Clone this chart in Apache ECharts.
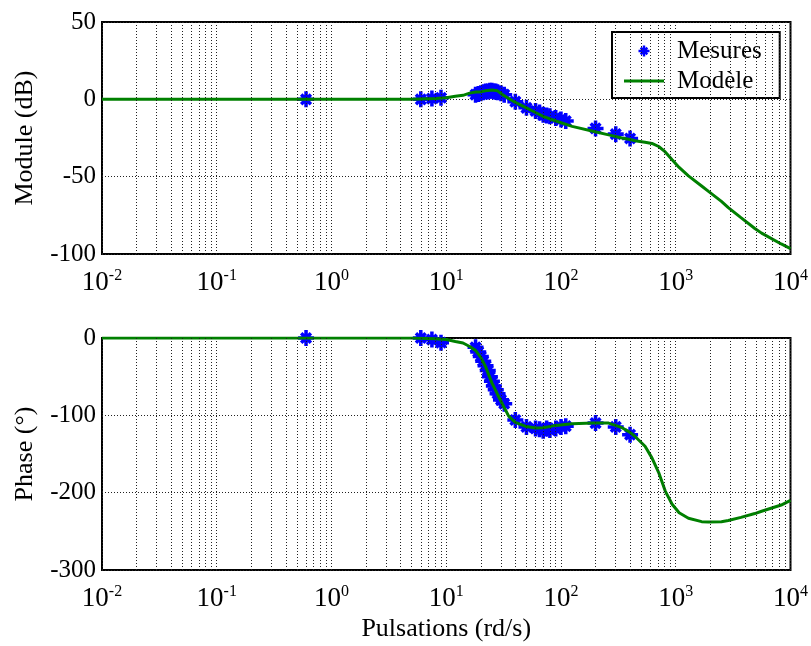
<!DOCTYPE html>
<html><head><meta charset="utf-8">
<script src="https://cdn.jsdelivr.net/npm/echarts@6/dist/echarts.min.js"></script>
<style>html,body{margin:0;padding:0;background:#fff}#c{width:811px;height:646px}</style>
</head><body><div id="c"></div>
<script>
// Measured points (Mesures)
const measW  = [0.6, 6, 7.5, 9, 18, 19, 20, 21, 22, 23, 24, 25, 26, 27, 28, 30, 32, 40, 50, 60, 65, 70, 75, 80, 90, 100, 110, 200, 300, 400];
const measDb = [0, 0, 0.5, 1, 3, 3.5, 4, 4.5, 5, 5, 5.5, 5.5, 5, 5, 4.5, 4, 3, -1.5, -5.5, -7.5, -8.5, -10, -10.5, -11, -12, -13, -14, -18.8, -22.5, -25.3];
const measPh = [0, 0, -2, -6, -12, -18, -24, -30, -36, -42, -50, -56, -62, -67, -72, -80, -85, -106, -115, -117, -118, -120, -117, -119, -117, -115, -114, -110, -115, -125];
// Model curve (Modèle)
const modelW  = [0.01, 1, 5, 8, 10, 12, 14, 16, 18, 20, 22, 25, 28, 31, 35, 40, 50, 60, 70, 90, 125, 190, 260, 340, 400, 440, 540, 620, 710, 810, 930, 1070, 1290, 1680, 1930, 2500, 2870, 3700, 4890, 5600, 8300, 10000];
const modelDb = [0, 0, 0, 0.5, 1, 2, 2.6, 4, 4.7, 4.8, 5.5, 6, 5.5, 3, 0.5, -2, -5.5, -8.5, -11, -14, -17.5, -20.6, -23, -25, -26, -26.8, -27.8, -28.5, -30.5, -34, -39, -44, -49.5, -56, -59.5, -66, -70, -76.5, -83.5, -86.5, -93.5, -96.5];
const modelPh = [0, 0, 0, -1, -2, -4.5, -6.5, -11, -16, -25, -37, -58, -73, -86, -101, -109, -114.5, -116.5, -116, -113, -111, -110, -110, -116, -122, -127, -140, -155, -174, -198, -215, -226, -233, -237.5, -238, -237.5, -236, -232, -227, -224, -216, -210];
// Axis structure
const decadeExps = [-2, -1, 0, 1, 2, 3];
const minorMult = [2, 3, 4, 5, 6, 7, 8, 9];

const FONT = 'Liberation Serif';
const star = 'path://M0,7.8H20V12.2H0Z M7.8,0H12.2V20H7.8Z M2.4,5.5L5.5,2.4L17.6,14.5L14.5,17.6Z M14.5,2.4L17.6,5.5L5.5,17.6L2.4,14.5Z';
const lineIcon = 'path://M0,0H40V3H0Z';

const pairs = (xs, ys) => xs.map((x, i) => [x, ys[i]]);
const minorLines = [];
decadeExps.forEach(e => minorMult.forEach(k => minorLines.push({ xAxis: k * Math.pow(10, e) })));

const gridStyle = { color: '#222', width: 1, type: [1, 2] };

function xAxisCfg(idx, name) {
  return {
    type: 'log', logBase: 10, gridIndex: idx, min: 0.01, max: 10000, splitNumber: 6,
    axisLine: { show: false }, axisTick: { show: false },
    splitLine: { show: true, lineStyle: gridStyle },
    axisLabel: {
      margin: 14,
      formatter: v => '{b|10}{s|' + Math.round(Math.log10(v)) + '}',
      rich: {
        b: { fontFamily: FONT, fontSize: 27, color: '#000', lineHeight: 28, verticalAlign: 'bottom' },
        s: { fontFamily: FONT, fontSize: 16, color: '#000', lineHeight: 16, verticalAlign: 'top' }
      }
    },
    name: name, nameLocation: 'middle', nameGap: 46,
    nameTextStyle: { fontFamily: FONT, fontSize: 26, color: '#000' }
  };
}
function yAxisCfg(idx, min, max, interval, name) {
  return {
    type: 'value', gridIndex: idx, min, max, interval,
    axisLine: { show: false }, axisTick: { show: false },
    splitLine: { show: true, lineStyle: gridStyle },
    axisLabel: { margin: 6, fontFamily: FONT, fontSize: 25, color: '#000' },
    name: name, nameLocation: 'middle', nameGap: 64, nameRotate: 90,
    nameTextStyle: { fontFamily: FONT, fontSize: 26, color: '#000' }
  };
}
function minorSeries(idx) {
  return {
    type: 'line', xAxisIndex: idx, yAxisIndex: idx, data: [], silent: true, z: 1,
    markLine: { silent: true, symbol: 'none', animation: false, label: { show: false },
      lineStyle: gridStyle, emphasis: { disabled: true }, data: minorLines }
  };
}
const measStyle = { type: 'scatter', symbol: star, symbolSize: 16, symbolKeepAspect: true,
  itemStyle: { color: '#0000ff', opacity: 1 }, z: 3 };
const modelStyle = { type: 'line', symbol: 'none', showSymbol: false,
  lineStyle: { color: '#008000', width: 3 }, itemStyle: { color: '#008000' }, z: 4 };

const chart = echarts.init(document.getElementById('c'), null, { renderer: 'canvas' });
chart.setOption({
  animation: false,
  backgroundColor: '#fff',
  grid: [
    { left: 102, top: 22, width: 694, height: 232, show: true, borderColor: '#000', borderWidth: 2, containLabel: false },
    { left: 102, top: 338, width: 694, height: 232, show: true, borderColor: '#000', borderWidth: 2, containLabel: false }
  ],
  xAxis: [xAxisCfg(0, ''), xAxisCfg(1, 'Pulsations (rd/s)')],
  yAxis: [yAxisCfg(0, -100, 50, 50, 'Module (dB)'), yAxisCfg(1, -300, 0, 100, 'Phase (°)')],
  legend: {
    left: 612, top: 32, orient: 'vertical', itemWidth: 40, itemHeight: 11, itemGap: 4,
    symbolKeepAspect: true,
    backgroundColor: '#fff', borderColor: '#000', borderWidth: 2, borderRadius: 0,
    padding: [6, 18, 4, 12],
    data: [{ name: 'Mesures', icon: star }, { name: 'Modèle', icon: lineIcon }],
    textStyle: { fontFamily: FONT, fontSize: 25, color: '#000', lineHeight: 26, padding: [0, 0, 0, 8] },
    selectedMode: false
  },
  series: [
    minorSeries(0), minorSeries(1),
    Object.assign({ name: 'Mesures', xAxisIndex: 0, yAxisIndex: 0, data: pairs(measW, measDb) }, measStyle),
    Object.assign({ name: 'Modèle', xAxisIndex: 0, yAxisIndex: 0, data: pairs(modelW, modelDb) }, modelStyle),
    Object.assign({ name: 'Mesures', xAxisIndex: 1, yAxisIndex: 1, data: pairs(measW, measPh) }, measStyle),
    Object.assign({ name: 'Modèle', xAxisIndex: 1, yAxisIndex: 1, data: pairs(modelW, modelPh) }, modelStyle)
  ]
});
</script>
</body></html>
